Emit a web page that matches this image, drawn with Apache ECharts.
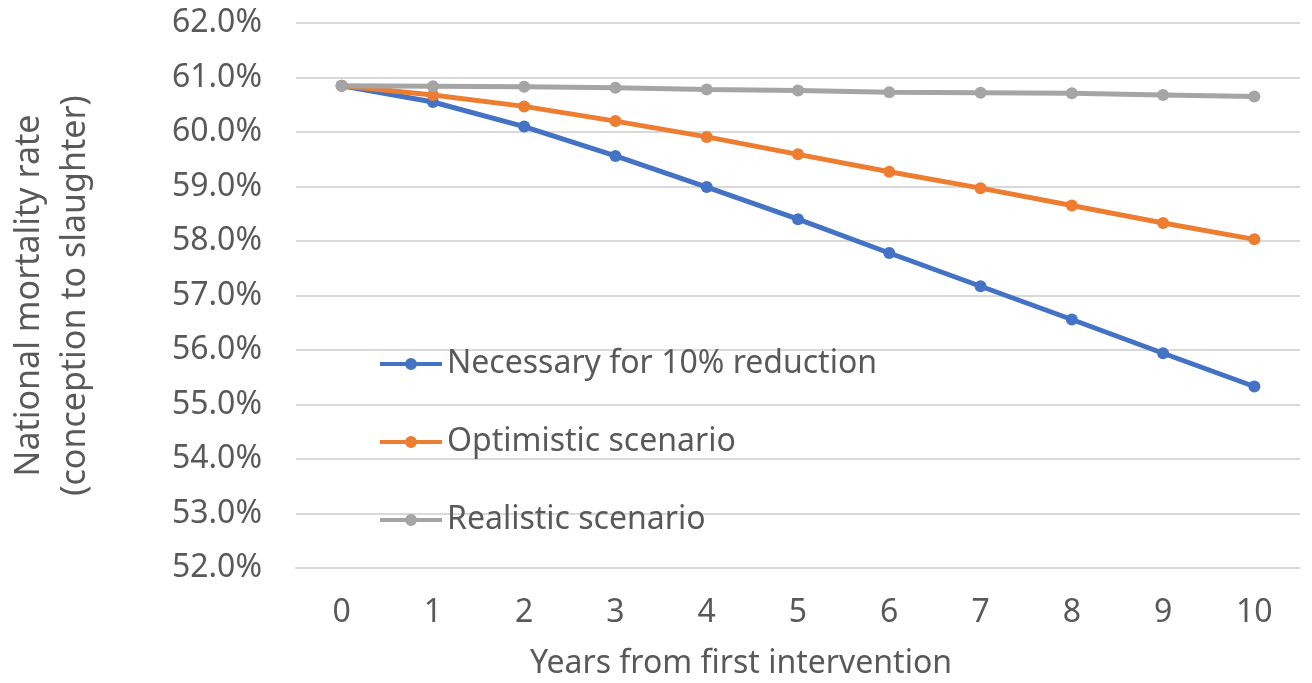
<!DOCTYPE html>
<html>
<head>
<meta charset="utf-8">
<script src="https://cdn.jsdelivr.net/npm/echarts@6/dist/echarts.min.js"></script>
<style>html,body{margin:0;padding:0;background:#fff;}#c{width:1312px;height:683px;}</style>
</head>
<body>
<div id="c"></div>
<script>
const years = ['0','1','2','3','4','5','6','7','8','9','10'];
const necessary = [60.85, 60.55, 60.10, 59.56, 58.99, 58.40, 57.78, 57.17, 56.56, 55.94, 55.33];
const optimistic = [60.85, 60.68, 60.47, 60.20, 59.91, 59.59, 59.27, 58.97, 58.65, 58.33, 58.03];
const realistic = [60.85, 60.84, 60.83, 60.81, 60.78, 60.76, 60.73, 60.72, 60.71, 60.68, 60.65];
const seriesNames = ['Necessary for 10% reduction', 'Optimistic scenario', 'Realistic scenario'];
const colors = ['#4472C4', '#ED7D31', '#A5A5A5'];

const font = 'Noto Sans';
const chart = echarts.init(document.getElementById('c'));
const mk = (name, data, color) => ({
  name, type: 'line', data, color,
  symbol: 'circle', symbolSize: 12,
  lineStyle: { width: 5, color },
  itemStyle: { color },
  z: 3
});
chart.setOption({
  animation: false,
  textStyle: { fontFamily: font },
  grid: { left: 296, right: 12, top: 23, bottom: 115, outerBoundsMode: 'none', containLabel: false },
  legend: {
    orient: 'vertical', left: 380, top: 348, itemGap: 46, padding: 0,
    itemWidth: 62, itemHeight: 12,
    icon: 'path://M0,4 L62,4 L62,8 L0,8 Z M25,6 A6,6 0 1,1 37,6 A6,6 0 1,1 25,6 Z',
    textStyle: { fontSize: 32, color: '#595959', fontFamily: font },
    data: seriesNames
  },
  xAxis: {
    type: 'category', data: years, boundaryGap: true,
    name: 'Years from first intervention', nameLocation: 'middle', nameGap: 80,
    nameTextStyle: { fontSize: 32, color: '#595959', padding: [0, 114, 0, 0] },
    axisLine: { show: true, lineStyle: { color: '#D9D9D9', width: 2 } },
    axisTick: { show: false },
    axisLabel: { fontSize: 32, color: '#595959', margin: 29 }
  },
  yAxis: {
    type: 'value', min: 52, max: 62, interval: 1,
    name: 'National mortality rate\n(conception to slaughter)', nameLocation: 'middle', nameGap: 198,
    nameTextStyle: { fontSize: 34, color: '#595959', lineHeight: 46 },
    axisLine: { show: false }, axisTick: { show: false },
    axisLabel: { fontSize: 32, color: '#595959', margin: 34, formatter: v => v.toFixed(1) + '%' },
    splitLine: { lineStyle: { color: '#D9D9D9', width: 2 } }
  },
  series: [
    mk(seriesNames[0], necessary, colors[0]),
    mk(seriesNames[1], optimistic, colors[1]),
    mk(seriesNames[2], realistic, colors[2])
  ]
});
</script>
</body>
</html>
